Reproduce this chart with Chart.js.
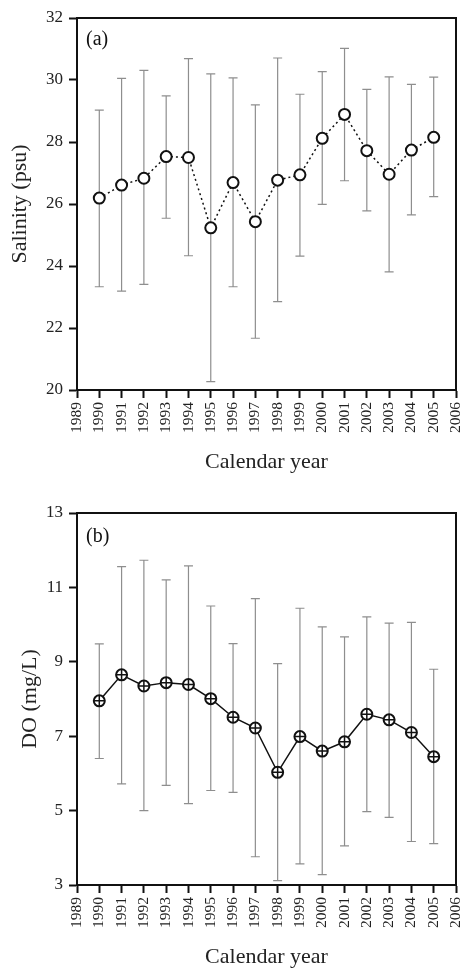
<!DOCTYPE html>
<html>
<head>
<meta charset="utf-8">
<script src="https://cdn.jsdelivr.net/npm/chart.js@4/dist/chart.umd.min.js"></script>
<style>
  html, body { margin: 0; padding: 0; background: #fff; }
  #page { position: relative; width: 467px; height: 970px; }
  .panel { position: absolute; left: 0; width: 467px; }
</style>
</head>
<body>
<div id="page">
  <div class="panel" style="top:0;height:482px"><canvas id="chart-a"></canvas></div>
  <div class="panel" style="top:482px;height:488px"><canvas id="chart-b"></canvas></div>
</div>
<script>
// data
const years = [1990, 1991, 1992, 1993, 1994, 1995, 1996, 1997, 1998, 1999, 2000, 2001, 2002, 2003, 2004, 2005];

const salinityMean = [26.19, 26.61, 26.83, 27.53, 27.50, 25.23, 26.69, 25.43, 26.77, 26.94, 28.12, 28.89, 27.72, 26.96, 27.74, 28.15];
const salinityHigh = [29.03, 30.05, 30.31, 29.49, 30.69, 30.20, 30.07, 29.20, 30.71, 29.54, 30.27, 31.02, 29.70, 30.10, 29.86, 30.09];
const salinityLow  = [23.33, 23.19, 23.41, 25.54, 24.33, 20.27, 23.33, 21.67, 22.85, 24.32, 25.99, 26.75, 25.78, 23.81, 25.65, 26.24];

const doMean = [7.95, 8.65, 8.35, 8.44, 8.39, 8.01, 7.51, 7.22, 6.03, 6.99, 6.60, 6.85, 7.59, 7.44, 7.10, 6.45];
const doHigh = [9.48, 11.56, 11.73, 11.20, 11.58, 10.50, 9.49, 10.70, 8.95, 10.44, 9.94, 9.67, 10.21, 10.04, 10.06, 8.80];
const doLow  = [6.40, 5.72, 5.00, 5.68, 5.19, 5.54, 5.49, 3.76, 3.12, 3.57, 3.28, 4.05, 4.97, 4.82, 4.17, 4.11];

const salinityTicks = [20, 22, 24, 26, 28, 30, 32];
const doTicks = [3, 5, 7, 9, 11, 13];

const SERIF = "'Liberation Serif', 'DejaVu Serif', serif";

// whiskers go under the markers
const errorBars = {
  id: 'errorBars',
  beforeDatasetsDraw(chart, args, opts) {
    const { ctx, scales: { x, y } } = chart;
    ctx.save();
    ctx.strokeStyle = '#8e8e8e';
    ctx.lineWidth = 1.2;
    opts.low.forEach((lo, i) => {
      const px = x.getPixelForValue(years[i]);
      const yl = y.getPixelForValue(lo);
      const yh = y.getPixelForValue(opts.high[i]);
      ctx.beginPath();
      ctx.moveTo(px, yl); ctx.lineTo(px, yh);
      ctx.moveTo(px - 4.5, yl); ctx.lineTo(px + 4.5, yl);
      ctx.moveTo(px - 4.5, yh); ctx.lineTo(px + 4.5, yh);
      ctx.stroke();
    });
    ctx.restore();
  }
};

// closed box round the plot + panel letter
const frame = {
  id: 'frame',
  afterDraw(chart, args, opts) {
    const { ctx, chartArea: a } = chart;
    ctx.save();
    ctx.strokeStyle = '#111';
    ctx.lineWidth = 2;
    ctx.strokeRect(a.left, a.top, a.right - a.left, a.bottom - a.top);
    ctx.fillStyle = '#111';
    ctx.font = '20px ' + SERIF;
    ctx.textBaseline = 'alphabetic';
    ctx.fillText(opts.label, a.left + 9, a.top + opts.labelDy);
    ctx.restore();
  }
};

function makePanel(id, cfg) {
  const points = years.map((yr, i) => ({ x: yr, y: cfg.mean[i] }));
  const datasets = [];
  if (cfg.cross) {
    // plus sign inside the circles, has to sit on top
    datasets.push({
      data: points,
      order: 0,
      showLine: false,
      pointStyle: 'cross',
      pointRadius: 5.5,
      pointBorderWidth: 1.5,
      pointBorderColor: '#111',
      borderColor: '#111',
    });
  }
  datasets.push({
    data: points,
    order: 1,
    borderColor: '#111',
    borderWidth: 1.5,
    borderDash: cfg.dashed ? [2, 3] : [],
    pointRadius: 5.5,
    pointBorderWidth: 2,
    pointBackgroundColor: '#fff',
    pointBorderColor: '#111',
    tension: 0,
  });

  return new Chart(document.getElementById(id), {
    type: 'line',
    data: { datasets },
    plugins: [errorBars, frame],
    options: {
      responsive: true,
      maintainAspectRatio: false,
      animation: false,
      events: [],
      layout: { padding: { left: 0, right: 0, top: cfg.padTop, bottom: 0 } },
      plugins: {
        legend: { display: false },
        tooltip: { enabled: false },
        errorBars: { low: cfg.low, high: cfg.high },
        frame: { label: cfg.label, labelDy: cfg.labelDy },
      },
      scales: {
        x: {
          type: 'linear',
          min: 1989,
          max: 2006,
          afterFit: s => { s.height = cfg.xHeight; s.paddingLeft = 0; s.paddingRight = 11; },
          border: { color: '#111', width: 2 },
          grid: { drawOnChartArea: false, tickLength: 8, tickColor: '#111', tickWidth: 2 },
          ticks: {
            stepSize: 1,
            autoSkip: false,
            minRotation: 90,
            maxRotation: 90,
            padding: 4,
            color: '#222',
            font: { family: SERIF, size: 15.5 },
            callback: v => String(v),
          },
          title: {
            display: true,
            text: 'Calendar year',
            color: '#222',
            font: { family: SERIF, size: 22 },
            padding: { top: 0, bottom: cfg.xTitlePad },
          },
        },
        y: {
          min: cfg.ticks[0],
          max: cfg.ticks[cfg.ticks.length - 1],
          afterFit: s => { s.width = 77; },
          afterBuildTicks: s => { s.ticks = cfg.ticks.map(v => ({ value: v })); },
          border: { color: '#111', width: 2 },
          grid: { drawOnChartArea: false, tickLength: 8, tickColor: '#111', tickWidth: 2 },
          ticks: {
            padding: 6,
            color: '#222',
            font: { family: SERIF, size: 17 },
          },
          title: {
            display: true,
            text: cfg.yTitle,
            color: '#222',
            font: { family: SERIF, size: 22 },
            padding: { top: cfg.yTitlePad, bottom: 0 },
          },
        },
      },
    },
  });
}

makePanel('chart-a', {
  mean: salinityMean, high: salinityHigh, low: salinityLow,
  ticks: salinityTicks, yTitle: 'Salinity (psu)', label: '(a)',
  dashed: true, cross: false,
  padTop: 18, xHeight: 92, xTitlePad: 7, yTitlePad: 7, labelDy: 27,
});

makePanel('chart-b', {
  mean: doMean, high: doHigh, low: doLow,
  ticks: doTicks, yTitle: 'DO (mg/L)', label: '(b)',
  dashed: false, cross: true,
  padTop: 31, xHeight: 85, xTitlePad: 0, yTitlePad: 17, labelDy: 29,
});
</script>
</body>
</html>
